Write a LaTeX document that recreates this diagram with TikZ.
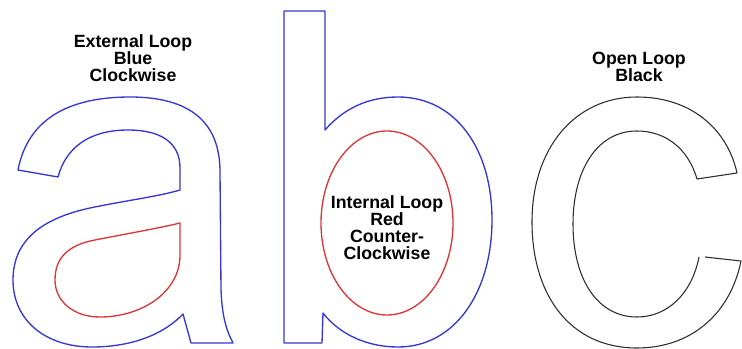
\documentclass[tikz,border=0pt]{standalone}
\usepackage{fontspec}
\setmainfont{Liberation Sans}
\definecolor{loopblue}{RGB}{55,55,215}
\definecolor{loopred}{RGB}{220,55,55}
\definecolor{loopblack}{RGB}{45,45,45}
\tikzset{
  outline/.style={line width=1pt, line join=round},
  label/.style={align=center, font=\bfseries\fontsize{13.3}{12.7}\selectfont, inner sep=0pt}
}
\begin{document}
\begin{tikzpicture}[x=0.75pt,y=-0.75pt]
\useasboundingbox (0,0) rectangle (742,349);
\fill[white] (0,0) rectangle (742,349);
% letter a: external loop
\draw[outline, loopblue] (18,170) .. controls (28,118) and (70,97) .. (130,97)
  .. controls (190,97) and (220,122) .. (220,172)
  -- (221,290) .. controls (222,315) and (226,330) .. (233,343)
  -- (191,343) -- (183,314)
  .. controls (160,338) and (125,347) .. (92,347)
  .. controls (45,347) and (13,320) .. (13,280)
  .. controls (13,235) and (50,215) .. (100,206)
  .. controls (130,200) and (160,196) .. (180,190)
  -- (180,168) .. controls (180,142) and (160,130) .. (128,130)
  .. controls (90,130) and (66,147) .. (58,177) -- cycle;
% letter a: internal loop
\draw[outline, loopred] (180,223) -- (180,255)
  .. controls (180,292) and (142,317) .. (100,317)
  .. controls (72,317) and (55,300) .. (55,280)
  .. controls (55,258) and (68,245) .. (95,240)
  .. controls (120,235) and (160,228) .. (180,223) -- cycle;
% letter b: external loop
\draw[outline, loopblue] (284,11) -- (325,11) -- (325,130)
  .. controls (345,107) and (370,97) .. (398,97)
  .. controls (455,97) and (492,148) .. (492,220)
  .. controls (492,292) and (455,347) .. (398,347)
  .. controls (368,347) and (340,335) .. (323,313)
  -- (322,343) -- (284,343) -- cycle;
% letter b: internal loop
\draw[outline, loopred] (387,223) ellipse [x radius=66, y radius=92];
% letter c: open loop
\draw[outline, loopblack, line width=0.8pt] (705,257) -- (741,261)
  .. controls (730,315) and (690,348) .. (637,348)
  .. controls (570,348) and (532,295) .. (532,222)
  .. controls (532,148) and (575,97) .. (637,97)
  .. controls (690,97) and (727,128) .. (737,173)
  -- (697,179)
  .. controls (688,148) and (665,131) .. (637,131)
  .. controls (597,131) and (573,170) .. (573,224)
  .. controls (573,280) and (598,317) .. (637,317)
  .. controls (668,317) and (692,293) .. (699,257);
% labels
\node[label] (ext) at (133,58.5) {External Loop\\Blue\\Clockwise};
\node[label] (int) at (387,228) {Internal Loop\\Red\\Counter-\\Clockwise};
\node[label] (open) at (639,67) {Open Loop\\Black};
\end{tikzpicture}
\end{document}
